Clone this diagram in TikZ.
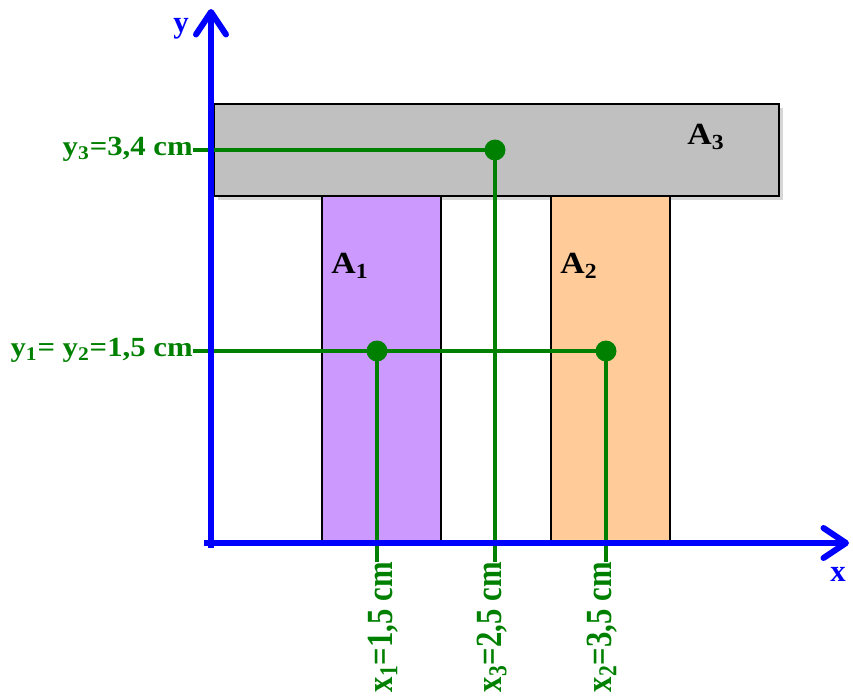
\documentclass[tikz,border=0pt]{standalone}
\usepackage{fontspec}
\setmainfont{Liberation Serif}
\definecolor{axisblue}{HTML}{0000FF}
\definecolor{centergreen}{HTML}{008000}
\definecolor{areagray}{HTML}{C0C0C0}
\definecolor{shadowgray}{HTML}{D6D6D6}
\definecolor{areapurple}{HTML}{CC99FF}
\definecolor{areaorange}{HTML}{FFCC99}
\usetikzlibrary{arrows.meta}

\begin{document}
\begin{tikzpicture}[x=0.02cm,y=-0.02cm,font=\fontsize{17.5}{20}\selectfont\bfseries]
        \tikzset{
            axisline/.style={
                draw=axisblue,
                line width=0.12cm,
                -{Straight Barb[length=4.5mm,width=6mm,round]}
            },
            axislabel/.style={text=axisblue, inner sep=0pt},
            areabox/.style={draw=black, line width=1.2pt},
            arealabel/.style={text=black, inner sep=0pt, xscale=1.1, transform shape},
            centerline/.style={draw=centergreen, line width=2.3pt},
            centerdot/.style={fill=centergreen},
            centerlabel/.style={text=centergreen, inner sep=0pt, anchor=base east},
            centerlabelside/.style={centerlabel, yscale=0.9, transform shape},
            centerlabelup/.style={centerlabel, rotate=90, yscale=1.2, transform shape}
        }
        \useasboundingbox (0,0) rectangle (853,697);

        % the three areas
        \fill[shadowgray] (218,108) rectangle (783,200);
        \filldraw[areabox, fill=areagray, line width=1.7pt] (214,104) rectangle (779,196);
        \filldraw[areabox, fill=areapurple] (322,196) rectangle (441,543);
        \filldraw[areabox, fill=areaorange] (551,196) rectangle (670,543);
        \node[arealabel] (aone) at (350,266) {A\textsubscript{1}};
        \node[arealabel] (atwo) at (579,266) {A\textsubscript{2}};
        \node[arealabel] (athree) at (706,137) {A\textsubscript{3}};

        % centroids and their coordinates
        \coordinate (cone) at (377,351);
        \coordinate (ctwo) at (606,351);
        \coordinate (cthree) at (495,150);
        \node[centerlabelside] (ythree) at (193,155) {y\textsubscript{3}=3,4 cm};
        \node[centerlabelside] (yonetwo) at (193,356) {y\textsubscript{1}= y\textsubscript{2}=1,5 cm};
        \node[centerlabelup] (xone) at (392,562) {x\textsubscript{1}=1,5 cm};
        \node[centerlabelup] (xthree) at (501,562) {x\textsubscript{3}=2,5 cm};
        \node[centerlabelup] (xtwo) at (611,562) {x\textsubscript{2}=3,5 cm};

        \draw[centerline] (ythree.base east |- cthree) -- (cthree) -- (cthree |- xthree.base east);
        \draw[centerline] (yonetwo.base east |- cone) -- (ctwo);
        \draw[centerline] (cone) -- (cone |- xone.base east);
        \draw[centerline] (ctwo) -- (ctwo |- xtwo.base east);

        % axes
        \coordinate (ystart) at (211,548);
        \coordinate (yend) at (211,9);
        \coordinate (xstart) at (204,543);
        \coordinate (xend) at (849,543);
        \draw[axisline] (ystart) -- (yend);
        \draw[axisline] (xstart) -- (xend);
        \node[axislabel] (ylabel) at (181,29) {y};
        \node[axislabel] (xlabel) at (838,574) {x};

        \fill[centerdot] (cone) circle[radius=0.21cm];
        \fill[centerdot] (ctwo) circle[radius=0.21cm];
        \fill[centerdot] (cthree) circle[radius=0.21cm];
    \end{tikzpicture}
\end{document}
